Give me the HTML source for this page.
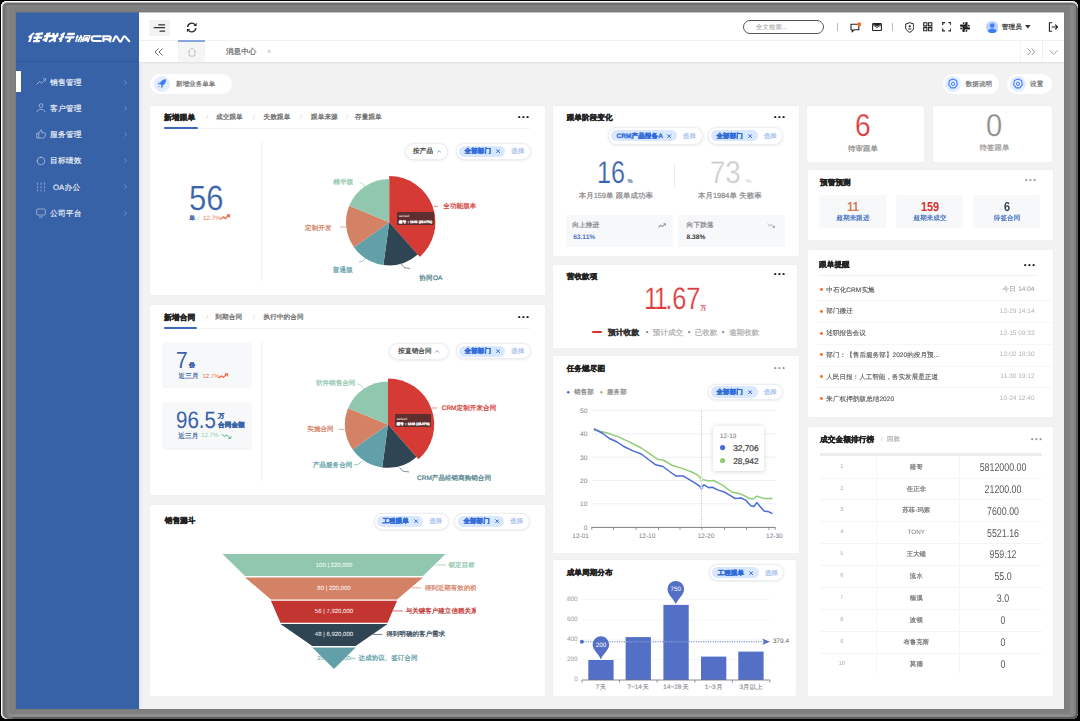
<!DOCTYPE html>
<html lang="zh"><head><meta charset="utf-8"><title>任我行协同CRM</title>
<style>
html,body{margin:0;padding:0;}
body{width:1080px;height:721px;overflow:hidden;background:#000;font-family:"Liberation Sans",sans-serif;position:relative;}
#root{position:absolute;left:0;top:0;width:1080px;height:721px;overflow:hidden;filter:blur(0.45px);}
#root div,#root span,#root svg{position:absolute;}
#root div div, #root div span{position:absolute;}
.t{white-space:nowrap;display:block;overflow:visible;text-rendering:geometricPrecision;}
#root .t span{position:static;}
.j{text-align:justify;text-align-last:justify;-webkit-text-stroke:0.22px;}
#frm{left:1px;top:1px;width:1077px;height:718px;border-radius:6px;background:#808080;
box-shadow:inset 1px 0 0 #fff,inset 0 1px 0 #fff,inset 2px 0 0 #b0b0b0,inset 0 2px 0 #b8b8b8,inset 4px 0 0 #707070,inset 0 4px 0 #6e6e6e,inset 6px 0 0 #7a7a7a,inset 8px 0 0 #868686,
inset -2px 0 0 #5c5c5c,inset 0 -2px 0 #5c5c5c,inset -4px 0 0 #808080,inset -8px 0 0 #898989,inset 0 -5px 0 #8e8e8e;}
#fi{left:15px;top:11px;width:1050px;height:699px;background:#7a7a7a;}
#fe{left:16px;top:12px;width:1048px;height:1px;background:rgba(128,128,128,0.45);}
</style></head><body><div id="root">
<div id="frm"></div><div id="fi"></div>
<div id="frame"></div>
<div style="left:16.00px;top:12.00px;width:1048.00px;height:697.00px;background:#f2f2f2;"></div>
<div style="left:16.00px;top:12.00px;width:123.00px;height:697.00px;background:#3762a8;"></div>
<div style="left:16.00px;top:60.50px;width:123.00px;height:1.00px;background:rgba(0,0,0,0.10);"></div>
<div style="left:16.00px;top:70.50px;width:5.00px;height:21.50px;background:#fff;"></div>
<svg style="left:0.00px;top:0.00px;pointer-events:none;" width="1080" height="721" viewBox="0 0 1080 721"><title>任我行 协同 CRM</title><g transform="translate(26.3 33) translate(3.3 0) skewX(-20)" stroke="#fff" fill="none" stroke-linecap="butt" stroke-linejoin="miter" stroke-width="2.3"><path d="M4.6 0 L0.6 4.2 M2.9 3 V9 M6.2 1.1 L13.6 0.5 M9.7 1 V8 M5.6 4.6 H14.2 M6.4 8.1 H13.2"/><path d="M15.6 3.1 H29.8 M19.2 0.6 V8.9 M17 1.2 L21.2 0.4 M15.6 7 L19.2 5.6 M23.6 0.2 L28.6 8.8 M28.2 4.6 L22.4 8.8 M27.4 0.4 L29 1.8"/><path d="M35.2 0 L32 2.6 M35.6 3 L31.4 6.3 M34 5.6 V9 M38 1 H45.6 M37 4.3 H46.4 M42.5 4.3 V8.1 H40.2"/></g><g transform="translate(74.2 35) translate(2.2 0) skewX(-16)" stroke="#fff" fill="none" stroke-linecap="butt" stroke-linejoin="miter" stroke-width="1.45"><path d="M1.3 0 V7 M0 2.2 H2.8 M3.6 2.2 H6.6 M5 0 L3.6 7 M6.2 2.2 V6.4 L5.4 7 M3.4 4.2 L3 5.4 M7 4 L7.3 5.2"/><path d="M8.2 7 V0.6 H13.6 V6.4 L12.6 7 M9.6 2.4 H12.2 M9.8 3.8 H12 V5.4 H9.8 Z"/></g><g stroke="#fff" fill="none" stroke-linecap="butt" stroke-linejoin="miter" stroke-width="2.1" stroke-linejoin="round"><path d="M101.6 36.2 H94 Q91.6 36.2 91.6 38.6 Q91.6 41 94 41 H101.6"/><path d="M103.4 41.9 V36.2 H109 Q110.8 36.2 110.8 37.7 Q110.8 39.2 109 39.2 H104 M108 39.2 L111 41.9" stroke-linejoin="miter"/><path d="M112.8 41.9 L115.2 36.8 Q116 35.6 116.9 36.8 L119.6 41.2 Q120.4 42.2 121.1 41.2 L123.6 36.8 Q124.4 35.6 125.3 36.8 L129.8 41.9"/></g></svg>
<svg style="left:35.80px;top:78.20px;" width="10.5" height="10" viewBox="0 0 10.5 10"><path d="M0.5 6.5 L3.5 3.5 L5.8 5.2 L9.8 1.2 M7 0.8 L10 0.8 L10 3.8" fill="none" stroke="rgba(255,255,255,0.5)" stroke-width="0.9"/></svg>
<span class="t j" style="left:50.10px;width:31.30px;top:76.70px;line-height:12px;font-size:7.75px;color:rgba(255,255,255,0.82);">销售管理</span>
<svg style="left:124.00px;top:79.50px;" width="3" height="5" viewBox="0 0 3 5"><path d="M0.4 0.4 L2.5 2.5 L0.4 4.6" fill="none" stroke="rgba(255,255,255,0.35)" stroke-width="0.8"/></svg>
<svg style="left:35.80px;top:103.25px;" width="10.5" height="10" viewBox="0 0 10.5 10"><circle cx="5" cy="2.6" r="1.9" fill="none" stroke="rgba(255,255,255,0.5)" stroke-width="0.9"/><path d="M1 9 C1 5.5 9 5.5 9 9" fill="none" stroke="rgba(255,255,255,0.5)" stroke-width="0.9"/></svg>
<span class="t j" style="left:50.10px;width:31.30px;top:102.95px;line-height:12px;font-size:7.75px;color:rgba(255,255,255,0.82);">客户管理</span>
<svg style="left:124.00px;top:105.75px;" width="3" height="5" viewBox="0 0 3 5"><path d="M0.4 0.4 L2.5 2.5 L0.4 4.6" fill="none" stroke="rgba(255,255,255,0.35)" stroke-width="0.8"/></svg>
<svg style="left:35.80px;top:128.70px;" width="10.5" height="10" viewBox="0 0 10.5 10"><path d="M0.7 4.2 H2.8 V9 H0.7 Z M2.8 4.4 L4.8 0.8 C6.2 0.6 6.2 2.4 5.6 3.8 H8.6 C9.6 3.8 9.6 5 9.3 6 L8.6 8.3 C8.4 8.9 8 9 7.4 9 H2.8" fill="none" stroke="rgba(255,255,255,0.5)" stroke-width="0.9"/></svg>
<span class="t j" style="left:50.10px;width:31.30px;top:129.20px;line-height:12px;font-size:7.75px;color:rgba(255,255,255,0.82);">服务管理</span>
<svg style="left:124.00px;top:132.00px;" width="3" height="5" viewBox="0 0 3 5"><path d="M0.4 0.4 L2.5 2.5 L0.4 4.6" fill="none" stroke="rgba(255,255,255,0.35)" stroke-width="0.8"/></svg>
<svg style="left:35.80px;top:155.90px;" width="10.5" height="10" viewBox="0 0 10.5 10"><circle cx="5" cy="5" r="3.8" fill="none" stroke="rgba(255,255,255,0.5)" stroke-width="0.9"/><path d="M5 0.5 V2 M0.5 5 H1.6" stroke="rgba(255,255,255,0.5)" stroke-width="0.9"/></svg>
<span class="t j" style="left:50.10px;width:31.30px;top:155.30px;line-height:12px;font-size:7.75px;color:rgba(255,255,255,0.82);">目标绩效</span>
<svg style="left:124.00px;top:158.10px;" width="3" height="5" viewBox="0 0 3 5"><path d="M0.4 0.4 L2.5 2.5 L0.4 4.6" fill="none" stroke="rgba(255,255,255,0.35)" stroke-width="0.8"/></svg>
<svg style="left:35.80px;top:181.80px;" width="10.5" height="10" viewBox="0 0 10.5 10"><path d="M1.5 0.5 V9.5 M5 0.5 V9.5 M8.5 0.5 V9.5" stroke="rgba(255,255,255,0.5)" stroke-width="0.8" stroke-dasharray="2.4 1.2"/></svg>
<span class="t j" style="left:53.00px;width:27.24px;top:181.50px;line-height:12px;font-size:7.75px;color:rgba(255,255,255,0.82);">OA办公</span>
<svg style="left:124.00px;top:184.30px;" width="3" height="5" viewBox="0 0 3 5"><path d="M0.4 0.4 L2.5 2.5 L0.4 4.6" fill="none" stroke="rgba(255,255,255,0.35)" stroke-width="0.8"/></svg>
<svg style="left:35.80px;top:208.30px;" width="10.5" height="10" viewBox="0 0 10.5 10"><rect x="0.7" y="1" width="8.6" height="6" rx="1" fill="none" stroke="rgba(255,255,255,0.5)" stroke-width="0.9"/><path d="M3 9 H7" stroke="rgba(255,255,255,0.5)" stroke-width="0.9"/></svg>
<span class="t j" style="left:50.10px;width:31.30px;top:207.70px;line-height:12px;font-size:7.75px;color:rgba(255,255,255,0.82);">公司平台</span>
<svg style="left:124.00px;top:210.50px;" width="3" height="5" viewBox="0 0 3 5"><path d="M0.4 0.4 L2.5 2.5 L0.4 4.6" fill="none" stroke="rgba(255,255,255,0.35)" stroke-width="0.8"/></svg>
<div style="left:139.00px;top:12.00px;width:925.00px;height:50.00px;background:#fff;"></div>
<div style="left:139.00px;top:40.00px;width:925.00px;height:0.80px;background:#f1f1f1;"></div>
<div style="left:139.00px;top:62.00px;width:925.00px;height:1.00px;background:#e4e4e4;"></div>
<div style="left:139.00px;top:63.00px;width:925.00px;height:1.50px;background:linear-gradient(#e9e9e9,#f2f2f2);"></div>
<div style="left:139.00px;top:64.00px;width:4.00px;height:645.00px;background:linear-gradient(90deg,#e3e3e3,#f2f2f2);"></div>
<div style="left:138.00px;top:12.00px;width:1.00px;height:697.00px;background:#3360a8;"></div>
<div style="left:149.20px;top:19.60px;width:20.60px;height:16.20px;background:#f3f3f3;border-radius:1px;"></div>
<svg style="left:153.00px;top:23.00px;" width="13" height="10" viewBox="0 0 13 10"><path d="M5.7 1.8 H11.6 M1.2 4.7 H11.6 M7 8.2 H11.6" stroke="#333" stroke-width="1.2" stroke-linecap="round"/></svg>
<svg style="left:185.50px;top:22.00px;" width="11.5" height="11" viewBox="0 0 11.5 11"><path d="M1.6 5 A4.2 4.2 0 0 1 9 2.6 M9.9 6 A4.2 4.2 0 0 1 2.5 8.4" fill="none" stroke="#222" stroke-width="1.3"/><path d="M10.6 0.8 V4 H7.4 Z M0.9 10.2 V7 H4.1 Z" fill="#222"/></svg>
<div style="left:178.20px;top:40.00px;width:26.60px;height:1.80px;background:#8aa8e0;"></div>
<div style="left:178.20px;top:41.80px;width:26.60px;height:20.20px;background:#f5f5f5;"></div>
<svg style="left:154.00px;top:47.50px;" width="10" height="8" viewBox="0 0 10 8"><path d="M4.6 0.5 L1 4 L4.6 7.5 M8.6 0.5 L5 4 L8.6 7.5" fill="none" stroke="#555" stroke-width="0.9"/></svg>
<svg style="left:187.00px;top:46.50px;" width="10" height="10" viewBox="0 0 10 10"><path d="M0.8 5 L5 0.8 L9.2 5 M2.2 4.2 V9 H7.8 V4.2" fill="none" stroke="#b5b5b5" stroke-width="0.8"/></svg>
<span class="t j" style="left:226.00px;width:30.30px;top:46.00px;line-height:12px;font-size:7.5px;color:#666;">消息中心</span>
<span class="t" style="left:169.00px;width:200px;text-align:center;top:46.00px;line-height:12px;font-size:8px;color:#bbb;">×</span>
<div style="left:1041.50px;top:41.00px;width:0.60px;height:21.00px;background:#eee;"></div>
<div style="left:1019.50px;top:41.00px;width:0.60px;height:21.00px;background:#f3f3f3;"></div>
<svg style="left:1026.50px;top:48.00px;" width="9" height="7.5" viewBox="0 0 9 7.5"><path d="M0.6 0.5 L3.8 3.75 L0.6 7 M4.6 0.5 L7.8 3.75 L4.6 7" fill="none" stroke="#777" stroke-width="0.8"/></svg>
<svg style="left:1048.50px;top:49.50px;" width="9" height="5" viewBox="0 0 9 5"><path d="M0.6 0.6 L4.5 4.2 L8.4 0.6" fill="none" stroke="#888" stroke-width="0.8"/></svg>
<div style="left:743.3px;top:20px;width:81px;height:13.6px;border:0.9px solid #555;border-radius:8px;box-sizing:border-box;background:#fff"></div>
<span class="t j" style="left:756.00px;width:31.11px;top:22.50px;line-height:10px;font-size:6.3px;color:#bdbdbd;">全文检索...</span>
<div style="left:837.00px;top:22.50px;width:0.70px;height:8.00px;background:#bbb;"></div>
<div style="left:891.50px;top:22.50px;width:0.70px;height:8.00px;background:#bbb;"></div>
<svg style="left:849.50px;top:21.50px;" width="11" height="11" viewBox="0 0 11 11"><path d="M1 2.2 H8.8 V7.8 H4 L2.2 9.8 V7.8 H1 Z" fill="none" stroke="#222" stroke-width="1.1" stroke-linejoin="round"/><circle cx="9.3" cy="2.2" r="2" fill="#ff6a1f"/></svg>
<svg style="left:871.50px;top:22.60px;" width="10" height="8.2" viewBox="0 0 10 8.2"><rect x="0.6" y="0.6" width="8.8" height="7" rx="0.8" fill="none" stroke="#222" stroke-width="1.1"/><path d="M0.8 1 H9.2 L5 3.6 Z" fill="#222"/><path d="M1 1.8 L5 4.6 L9 1.8" fill="none" stroke="#222" stroke-width="0.9"/></svg>
<svg style="left:904.50px;top:21.50px;" width="9.5" height="11" viewBox="0 0 9.5 11"><path d="M4.75 0.7 L8.8 2 V5.6 C8.8 8 6.6 9.6 4.75 10.3 C2.9 9.6 0.7 8 0.7 5.6 V2 Z" fill="none" stroke="#222" stroke-width="1"/><circle cx="4.75" cy="4.3" r="1.1" fill="#222"/><path d="M3.2 7 H6.3" stroke="#222" stroke-width="1"/></svg>
<svg style="left:923.00px;top:22.00px;" width="9.5" height="9.5" viewBox="0 0 9.5 9.5"><path d="M0.7 0.7 H3.9 V3.9 H0.7 Z M5.6 0.7 H8.8 V3.9 H5.6 Z M0.7 5.6 H3.9 V8.8 H0.7 Z M5.6 5.6 H8.8 V8.8 H5.6 Z" fill="none" stroke="#222" stroke-width="1.1"/></svg>
<svg style="left:941.50px;top:22.00px;" width="9.5" height="9.5" viewBox="0 0 9.5 9.5"><path d="M0.7 3 V0.7 H3 M6.5 0.7 H8.8 V3 M8.8 6.5 V8.8 H6.5 M3 8.8 H0.7 V6.5" fill="none" stroke="#222" stroke-width="1.2"/></svg>
<svg style="left:960.00px;top:21.90px;" width="10" height="10" viewBox="0 0 10 10"><path d="M0.95 3.6 H5.2 M6.4 0.95 V5.2 M4.8 6.4 H9.05 M3.6 4.8 V9.05" stroke="#222" stroke-width="2.3" stroke-linecap="round"/><circle cx="3.6" cy="1.1" r="0.95" fill="#222"/><circle cx="8.9" cy="3.6" r="0.95" fill="#222"/><circle cx="6.4" cy="8.9" r="0.95" fill="#222"/><circle cx="1.1" cy="6.4" r="0.95" fill="#222"/></svg>
<svg style="left:985.50px;top:20.50px;" width="12.5" height="12.5" viewBox="0 0 12.5 12.5"><circle cx="6.25" cy="6.25" r="6.25" fill="#bcd3ff"/><circle cx="6.25" cy="4.6" r="2.3" fill="#3b7cff"/><path d="M2 10.6 C2 6.6 10.5 6.6 10.5 10.6 A6.25 6.25 0 0 1 2 10.6 Z" fill="#3b7cff"/></svg>
<span class="t j" style="left:1001.70px;width:20.10px;top:22.00px;line-height:11px;font-size:6.6px;color:#333;">管理员</span>
<svg style="left:1025.00px;top:25.30px;" width="5.6" height="3.4" viewBox="0 0 5.6 3.4"><path d="M0 0 H5.6 L2.8 3.4 Z" fill="#333"/></svg>
<svg style="left:1047.50px;top:21.80px;" width="10.5" height="10" viewBox="0 0 10.5 10"><path d="M4.2 0.7 H1.4 V9.3 H4.2" fill="none" stroke="#222" stroke-width="1.1"/><path d="M3.6 5 H9.4 M7.2 2.6 L9.6 5 L7.2 7.4" fill="none" stroke="#222" stroke-width="1.1"/></svg>
<div style="left:150.00px;top:74.00px;width:81.50px;height:20.00px;background:#fff;border-radius:10px;"></div>
<svg style="left:153.50px;top:76.00px;" width="16" height="16" viewBox="0 0 16 16"><circle cx="8" cy="8" r="8" fill="#e4edff"/><path d="M11.8 3.6 C9.2 3.6 7 5.2 5.9 7.6 L8 9.7 C10.4 8.6 12 6.6 11.8 3.6 Z M5.6 8.2 L4 8 L5.2 6.4 M7.4 10 L7.6 11.6 L9.2 10.4 M4.3 11.3 L5.6 10" fill="#3b7cff" stroke="#3b7cff" stroke-width="0.6" stroke-linejoin="round"/></svg>
<span class="t j" style="left:176.00px;width:39.30px;top:79.90px;line-height:10px;font-size:6.5px;color:#777;">新增业务单单</span>
<div style="left:942.70px;top:74.30px;width:56.60px;height:20.00px;background:#fff;border-radius:10px;"></div>
<svg style="left:945.30px;top:76.30px;" width="16" height="16" viewBox="0 0 16 16"><circle cx="8" cy="8" r="8" fill="#e4edff"/><path d="M8 3 L11.6 4.6 L12.3 8.6 L9.9 11.9 H6.1 L3.7 8.6 L4.4 4.6 Z" fill="none" stroke="#3f7dff" stroke-width="1.1" stroke-linejoin="round"/><circle cx="8" cy="7.8" r="1.6" fill="none" stroke="#3f7dff" stroke-width="1"/></svg>
<span class="t j" style="left:965.70px;width:26.30px;top:80.20px;line-height:10px;font-size:6.5px;color:#777;">数据说明</span>
<div style="left:1006.70px;top:74.30px;width:45.00px;height:20.00px;background:#fff;border-radius:10px;"></div>
<svg style="left:1010.30px;top:76.30px;" width="16" height="16" viewBox="0 0 16 16"><circle cx="8" cy="8" r="8" fill="#e4edff"/><path d="M8 3 L11.6 4.6 L12.3 8.6 L9.9 11.9 H6.1 L3.7 8.6 L4.4 4.6 Z" fill="none" stroke="#3f7dff" stroke-width="1.1" stroke-linejoin="round"/><circle cx="8" cy="7.8" r="1.6" fill="none" stroke="#3f7dff" stroke-width="1"/></svg>
<span class="t j" style="left:1030.00px;width:13.30px;top:80.20px;line-height:10px;font-size:6.5px;color:#777;">设置</span>
<div style="left:150.00px;top:105.70px;width:395.00px;height:189.60px;background:#fff;border-radius:1.5px;box-shadow:0 0 1.5px rgba(0,0,0,0.05);"></div>
<span class="t j" style="left:164.00px;width:31.30px;top:111.70px;line-height:12px;font-size:7.75px;color:#222;font-weight:bold;-webkit-text-stroke:0.3px;">新增跟单</span>
<div style="left:164.00px;top:127.90px;width:366.00px;height:0.70px;background:#f3f3f3;"></div>
<div style="left:164.00px;top:127.00px;width:33.50px;height:2.00px;background:#3b68b8;border-radius:1px;"></div>
<span class="t j" style="left:216.00px;width:26.70px;top:112.20px;line-height:11px;font-size:6.6px;color:#666;">成交跟单</span>
<span class="t j" style="left:263.60px;width:26.70px;top:112.20px;line-height:11px;font-size:6.6px;color:#666;">失败跟单</span>
<span class="t j" style="left:311.00px;width:26.70px;top:112.20px;line-height:11px;font-size:6.6px;color:#666;">跟单来源</span>
<span class="t j" style="left:355.00px;width:26.70px;top:112.20px;line-height:11px;font-size:6.6px;color:#666;">存量跟单</span>
<span class="t" style="left:107.00px;width:200px;text-align:center;top:112.70px;line-height:10px;font-size:6px;color:#ccc;">/</span>
<span class="t" style="left:154.00px;width:200px;text-align:center;top:112.70px;line-height:10px;font-size:6px;color:#ccc;">/</span>
<span class="t" style="left:200.50px;width:200px;text-align:center;top:112.70px;line-height:10px;font-size:6px;color:#ccc;">/</span>
<span class="t" style="left:247.00px;width:200px;text-align:center;top:112.70px;line-height:10px;font-size:6px;color:#ccc;">/</span>
<svg style="left:517.50px;top:115.80px;" width="11" height="2.4" viewBox="0 0 11 2.4"><circle cx="1.2" cy="1.2" r="1.1" fill="#222"/><circle cx="5.4" cy="1.2" r="1.1" fill="#222"/><circle cx="9.6" cy="1.2" r="1.1" fill="#222"/></svg>
<div style="left:258.70px;top:142.00px;width:4.00px;height:139.00px;background:linear-gradient(90deg,rgba(0,0,0,0),rgba(0,0,0,0.035));"></div>
<span class="t" style="left:188.80px;transform:scaleX(0.885);transform-origin:0 50%;top:175.30px;line-height:48px;font-size:35px;color:#3862a9;-webkit-text-stroke:0.25px #fff;">56</span>
<span class="t j" style="left:189.00px;width:6.60px;top:213.50px;line-height:10px;font-size:6.3px;color:#3862a9;">单</span>
<span class="t" style="left:98.50px;width:200px;text-align:center;top:213.50px;line-height:10px;font-size:6px;color:#bbb;">/</span>
<span class="t" style="left:203.00px;top:213.50px;line-height:10px;font-size:6.3px;color:#f07048;">12.7%</span>
<svg style="left:220.30px;top:214.40px;" width="10.5" height="6.6" viewBox="0 0 10 6"><path d="M0.6 5 L3 2.6 L5 4.2 L8.6 1 M6.4 0.8 L9 0.8 L9 3.2" fill="none" stroke="#f07048" stroke-width="1.25"/></svg>
<div style="left:405.00px;top:142.80px;width:42.70px;height:16.90px;border-radius:8.45px;background:#fff;border:0.8px solid #eceef3;box-sizing:border-box;box-shadow:0 0.5px 2.5px rgba(0,0,0,0.10)"></div>
<span class="t j" style="left:413.00px;width:20.10px;top:146.45px;line-height:11px;font-size:6.6px;color:#444;">按产品</span>
<svg style="left:436.80px;top:149.65px;" width="4.4" height="3" viewBox="0 0 4.4 3"><path d="M0.4 2.6 L2.2 0.6 L4 2.6" fill="none" stroke="#5b8be6" stroke-width="0.8"/></svg>
<div style="left:455.60px;top:142.80px;width:75.10px;height:16.90px;border-radius:8.45px;background:#fff;border:0.8px solid #eceef3;box-sizing:border-box;box-shadow:0 0.5px 2.5px rgba(0,0,0,0.10)"></div>
<div style="left:458.80px;top:145.65px;width:46.50px;height:11.20px;background:#d9e8ff;border-radius:5.6px;"></div>
<span class="t j" style="left:464.60px;width:26.30px;top:146.95px;line-height:10px;font-size:6.5px;color:#2f6bd8;font-weight:bold;-webkit-text-stroke:0.3px;">全部部门</span>
<svg style="left:495.90px;top:149.05px;" width="4.4" height="4.4" viewBox="0 0 4.4 4.4"><path d="M0.4 0.4 L4 4 M4 0.4 L0.4 4" stroke="#2f6bd8" stroke-width="1"/></svg>
<span class="t j" style="left:511.30px;width:12.90px;top:146.95px;line-height:10px;font-size:6.3px;color:#a9c2ee;">选择</span>
<svg style="left:0.00px;top:0.00px;pointer-events:none;" width="1080" height="721" viewBox="0 0 1080 721"><path d="M389.20 222.20 L389.20 176.00 A46.2 46.2 0 0 1 419.75 256.86 Z" fill="#d53a35"/><path d="M389.20 222.20 L417.77 254.60 A43.2 43.2 0 0 1 383.41 265.01 Z" fill="#2f4554"/><path d="M389.20 222.20 L383.41 265.01 A43.2 43.2 0 0 1 353.94 247.16 Z" fill="#61a0a8"/><path d="M389.20 222.20 L353.94 247.16 A43.2 43.2 0 0 1 349.26 205.74 Z" fill="#d48265"/><path d="M389.20 222.20 L349.26 205.74 A43.2 43.2 0 0 1 389.20 179.00 Z" fill="#91c7ae"/></svg>
<svg style="left:0.00px;top:0.00px;" width="1080" height="721" viewBox="0 0 1080 721"><path d="M359.5 182 L363.5 184.5 L366 188" fill="none" stroke="#91c7ae" stroke-width="0.6"/><path d="M340 227 H346.5" fill="none" stroke="#d48265" stroke-width="0.6"/><path d="M359 262 L363 261 L366 257.5" fill="none" stroke="#61a0a8" stroke-width="0.6"/><path d="M401 264 L404 267.5 L410 268.5" fill="none" stroke="#2f4554" stroke-width="0.6"/><path d="M433.5 206.3 H438" fill="none" stroke="#d53a35" stroke-width="0.6"/></svg>
<span class="t j" style="left:333.30px;width:19.95px;top:176.50px;line-height:11px;font-size:6.55px;color:#91c7ae;">精华版</span>
<span class="t j" style="left:305.00px;width:26.50px;top:222.70px;line-height:11px;font-size:6.55px;color:#d48265;">定制开发</span>
<span class="t j" style="left:332.80px;width:19.95px;top:264.80px;line-height:11px;font-size:6.55px;color:#61a0a8;">普通版</span>
<span class="t j" style="left:419.30px;width:23.10px;top:272.50px;line-height:11px;font-size:6.55px;color:#4e7f8c;">协同OA</span>
<span class="t j" style="left:443.30px;width:33.05px;top:201.00px;line-height:11px;font-size:6.55px;color:#d53a35;">全功能版本</span>
<div style="left:397.00px;top:211.80px;width:36.70px;height:13.20px;background:rgba(60,45,45,0.78);border-radius:1px;"></div>
<span class="t" style="left:399.00px;top:213.30px;line-height:6px;font-size:3.2px;color:#fff;">series0</span>
<span class="t j" style="left:399.00px;width:33.04px;top:218.70px;line-height:6px;font-size:3.3px;color:#fff;font-weight:bold;-webkit-text-stroke:0.3px;">编号 : 1348 (25.07%)</span>
<div style="left:150.00px;top:305.00px;width:395.00px;height:190.40px;background:#fff;border-radius:1.5px;box-shadow:0 0 1.5px rgba(0,0,0,0.05);"></div>
<span class="t j" style="left:164.00px;width:31.30px;top:311.70px;line-height:12px;font-size:7.75px;color:#222;font-weight:bold;-webkit-text-stroke:0.3px;">新增合同</span>
<div style="left:164.00px;top:327.90px;width:366.00px;height:0.70px;background:#f3f3f3;"></div>
<div style="left:164.00px;top:327.00px;width:32.50px;height:2.00px;background:#3b68b8;border-radius:1px;"></div>
<span class="t j" style="left:215.30px;width:26.70px;top:312.20px;line-height:11px;font-size:6.6px;color:#666;">到期合同</span>
<span class="t j" style="left:263.60px;width:39.90px;top:312.20px;line-height:11px;font-size:6.6px;color:#666;">执行中的合同</span>
<span class="t" style="left:107.00px;width:200px;text-align:center;top:312.70px;line-height:10px;font-size:6px;color:#ccc;">/</span>
<span class="t" style="left:154.00px;width:200px;text-align:center;top:312.70px;line-height:10px;font-size:6px;color:#ccc;">/</span>
<svg style="left:517.50px;top:315.80px;" width="11" height="2.4" viewBox="0 0 11 2.4"><circle cx="1.2" cy="1.2" r="1.1" fill="#222"/><circle cx="5.4" cy="1.2" r="1.1" fill="#222"/><circle cx="9.6" cy="1.2" r="1.1" fill="#222"/></svg>
<div style="left:258.70px;top:342.00px;width:4.00px;height:139.00px;background:linear-gradient(90deg,rgba(0,0,0,0),rgba(0,0,0,0.035));"></div>
<div style="left:163.30px;top:342.70px;width:87.50px;height:43.80px;background:#f7f8fa;border-radius:2.5px;box-shadow:0 0.5px 2.5px rgba(0,0,0,0.07);"></div>
<div style="left:163.30px;top:403.00px;width:87.50px;height:44.60px;background:#f7f8fa;border-radius:2.5px;box-shadow:0 0.5px 2.5px rgba(0,0,0,0.07);"></div>
<span class="t" style="left:176.30px;transform:scaleX(0.9);transform-origin:0 50%;top:343.90px;line-height:32px;font-size:23.4px;color:#3862a9;">7</span>
<span class="t j" style="left:189.00px;width:6.30px;top:360.50px;line-height:10px;font-size:6px;color:#3862a9;font-weight:bold;-webkit-text-stroke:0.3px;">份</span>
<span class="t j" style="left:178.40px;width:20.10px;top:371.20px;line-height:11px;font-size:6.6px;color:#3862a9;">近三月</span>
<span class="t" style="left:202.50px;top:371.70px;line-height:10px;font-size:6.0px;color:#f07048;">12.7%</span>
<svg style="left:218.00px;top:372.90px;" width="10.5" height="6.4" viewBox="0 0 10 6"><path d="M0.6 5 L3 2.6 L5 4.2 L8.6 1 M6.4 0.8 L9 0.8 L9 3.2" fill="none" stroke="#f07048" stroke-width="1.25"/></svg>
<span class="t" style="left:176.30px;transform:scaleX(0.86);transform-origin:0 50%;top:404.20px;line-height:33px;font-size:23.8px;color:#3862a9;">96.5</span>
<span class="t j" style="left:218.00px;width:6.60px;top:412.30px;line-height:10px;font-size:6.3px;color:#3862a9;font-weight:bold;-webkit-text-stroke:0.3px;">万</span>
<span class="t j" style="left:218.00px;width:26.70px;top:420.10px;line-height:11px;font-size:6.6px;color:#3862a9;font-weight:bold;-webkit-text-stroke:0.3px;">合同金额</span>
<span class="t j" style="left:178.20px;width:20.10px;top:430.80px;line-height:11px;font-size:6.6px;color:#3862a9;">近三月</span>
<span class="t" style="left:201.00px;top:431.30px;line-height:10px;font-size:6.2px;color:#8fd0b0;">12.7%</span>
<svg style="left:220.50px;top:432.60px;" width="11" height="6.4" viewBox="0 0 10 6"><path d="M0.6 1 L3 3.4 L5 1.8 L8.6 5 M6.4 5.2 L9 5.2 L9 2.8" fill="none" stroke="#7cc7a2" stroke-width="1"/></svg>
<div style="left:388.70px;top:342.70px;width:60.20px;height:17.00px;border-radius:8.50px;background:#fff;border:0.8px solid #eceef3;box-sizing:border-box;box-shadow:0 0.5px 2.5px rgba(0,0,0,0.10)"></div>
<span class="t j" style="left:398.30px;width:33.30px;top:346.40px;line-height:11px;font-size:6.6px;color:#444;">按直销合同</span>
<svg style="left:435.30px;top:349.60px;" width="4.4" height="3" viewBox="0 0 4.4 3"><path d="M0.4 2.6 L2.2 0.6 L4 2.6" fill="none" stroke="#5b8be6" stroke-width="0.8"/></svg>
<div style="left:455.60px;top:343.00px;width:75.10px;height:16.40px;border-radius:8.20px;background:#fff;border:0.8px solid #eceef3;box-sizing:border-box;box-shadow:0 0.5px 2.5px rgba(0,0,0,0.10)"></div>
<div style="left:458.80px;top:345.60px;width:46.50px;height:11.20px;background:#d9e8ff;border-radius:5.6px;"></div>
<span class="t j" style="left:464.60px;width:26.30px;top:346.90px;line-height:10px;font-size:6.5px;color:#2f6bd8;font-weight:bold;-webkit-text-stroke:0.3px;">全部部门</span>
<svg style="left:495.90px;top:349.00px;" width="4.4" height="4.4" viewBox="0 0 4.4 4.4"><path d="M0.4 0.4 L4 4 M4 0.4 L0.4 4" stroke="#2f6bd8" stroke-width="1"/></svg>
<span class="t j" style="left:511.30px;width:12.90px;top:346.90px;line-height:10px;font-size:6.3px;color:#a9c2ee;">选择</span>
<svg style="left:0.00px;top:0.00px;pointer-events:none;" width="1080" height="721" viewBox="0 0 1080 721"><path d="M388.00 424.60 L388.00 378.40 A46.2 46.2 0 0 1 418.55 459.26 Z" fill="#d53a35"/><path d="M388.00 424.60 L416.57 457.00 A43.2 43.2 0 0 1 382.21 467.41 Z" fill="#2f4554"/><path d="M388.00 424.60 L382.21 467.41 A43.2 43.2 0 0 1 352.74 449.56 Z" fill="#61a0a8"/><path d="M388.00 424.60 L352.74 449.56 A43.2 43.2 0 0 1 348.06 408.14 Z" fill="#d48265"/><path d="M388.00 424.60 L348.06 408.14 A43.2 43.2 0 0 1 388.00 381.40 Z" fill="#91c7ae"/></svg>
<svg style="left:0.00px;top:0.00px;" width="1080" height="721" viewBox="0 0 1080 721"><path d="M357 383.7 L361.5 385.5 L364 389" fill="none" stroke="#91c7ae" stroke-width="0.6"/><path d="M338.5 429.4 H344.5" fill="none" stroke="#d48265" stroke-width="0.6"/><path d="M354 465 L359 464 L362 461" fill="none" stroke="#61a0a8" stroke-width="0.6"/><path d="M399.5 467.5 L402.5 471 L409 472" fill="none" stroke="#2f4554" stroke-width="0.6"/><path d="M432 408 H437" fill="none" stroke="#d53a35" stroke-width="0.6"/></svg>
<span class="t j" style="left:316.00px;width:39.30px;top:379.10px;line-height:10px;font-size:6.5px;color:#91c7ae;">软件销售合同</span>
<span class="t j" style="left:307.30px;width:26.30px;top:425.10px;line-height:10px;font-size:6.5px;color:#d48265;">实施合同</span>
<span class="t j" style="left:312.90px;width:39.30px;top:461.20px;line-height:10px;font-size:6.5px;color:#61a0a8;">产品服务合同</span>
<span class="t j" style="left:417.00px;width:73.96px;top:474.20px;line-height:10px;font-size:6.5px;color:#4e7f8c;">CRM产品经销商购销合同</span>
<span class="t j" style="left:441.70px;width:54.46px;top:403.50px;line-height:10px;font-size:6.5px;color:#d53a35;">CRM定制开发合同</span>
<div style="left:394.70px;top:414.30px;width:36.10px;height:12.70px;background:rgba(60,45,45,0.78);border-radius:1px;"></div>
<span class="t" style="left:396.70px;top:415.70px;line-height:6px;font-size:3.2px;color:#fff;">series0</span>
<span class="t j" style="left:396.70px;width:33.04px;top:421.00px;line-height:6px;font-size:3.3px;color:#fff;font-weight:bold;-webkit-text-stroke:0.3px;">编号 : 1348 (25.07%)</span>
<div style="left:150.00px;top:505.30px;width:395.00px;height:190.80px;background:#fff;border-radius:1.5px;box-shadow:0 0 1.5px rgba(0,0,0,0.05);"></div>
<span class="t j" style="left:164.70px;width:30.70px;top:515.10px;line-height:12px;font-size:7.6px;color:#222;font-weight:bold;-webkit-text-stroke:0.3px;">销售漏斗</span>
<div style="left:373.50px;top:512.80px;width:75.90px;height:17.20px;border-radius:8.60px;background:#fff;border:0.8px solid #eceef3;box-sizing:border-box;box-shadow:0 0.5px 2.5px rgba(0,0,0,0.10)"></div>
<div style="left:376.70px;top:515.80px;width:46.50px;height:11.20px;background:#d9e8ff;border-radius:5.6px;"></div>
<span class="t j" style="left:382.50px;width:26.30px;top:517.10px;line-height:10px;font-size:6.5px;color:#2f6bd8;font-weight:bold;-webkit-text-stroke:0.3px;">工程跟单</span>
<svg style="left:413.80px;top:519.20px;" width="4.4" height="4.4" viewBox="0 0 4.4 4.4"><path d="M0.4 0.4 L4 4 M4 0.4 L0.4 4" stroke="#2f6bd8" stroke-width="1"/></svg>
<span class="t j" style="left:429.20px;width:12.90px;top:517.10px;line-height:10px;font-size:6.3px;color:#a9c2ee;">选择</span>
<div style="left:454.40px;top:512.80px;width:75.60px;height:17.20px;border-radius:8.60px;background:#fff;border:0.8px solid #eceef3;box-sizing:border-box;box-shadow:0 0.5px 2.5px rgba(0,0,0,0.10)"></div>
<div style="left:457.60px;top:515.80px;width:46.50px;height:11.20px;background:#d9e8ff;border-radius:5.6px;"></div>
<span class="t j" style="left:463.40px;width:26.30px;top:517.10px;line-height:10px;font-size:6.5px;color:#2f6bd8;font-weight:bold;-webkit-text-stroke:0.3px;">全部部门</span>
<svg style="left:494.70px;top:519.20px;" width="4.4" height="4.4" viewBox="0 0 4.4 4.4"><path d="M0.4 0.4 L4 4 M4 0.4 L0.4 4" stroke="#2f6bd8" stroke-width="1"/></svg>
<span class="t j" style="left:510.10px;width:12.90px;top:517.10px;line-height:10px;font-size:6.3px;color:#a9c2ee;">选择</span>
<svg style="left:0.00px;top:0.00px;pointer-events:none;" width="1080" height="721" viewBox="0 0 1080 721"><path d="M222.50 554 L445.50 554 L423.00 576.1 L245.00 576.1 Z" fill="#91c7ae"/><path d="M245.00 577.4 L423.00 577.4 L397.10 599.4 L270.90 599.4 Z" fill="#d48265"/><path d="M270.90 600.7 L397.10 600.7 L387.55 622.8 L280.45 622.8 Z" fill="#c23531"/><path d="M280.45 624 L387.55 624 L355.65 646.1 L312.35 646.1 Z" fill="#2f4554"/><path d="M312.35 647.4 L355.65 647.4 L334.00 669 L334.00 669 Z" fill="#61a0a8"/><path d="M435.6 565 H446" stroke="#91c7ae" stroke-width="0.7"/><path d="M412 587.8 H421" stroke="#d48265" stroke-width="0.7"/><path d="M392.8 611 H403" stroke="#c23531" stroke-width="0.7"/><path d="M373 634.4 H382.4" stroke="#2f4554" stroke-width="0.7"/><path d="M350 658.3 H355.5" stroke="#61a0a8" stroke-width="0.7"/></svg>
<span class="t" style="left:234.00px;width:200px;text-align:center;top:560.70px;line-height:10px;font-size:6.0px;color:#fff;">100 | 220,000</span>
<span class="t" style="left:234.00px;width:200px;text-align:center;top:583.50px;line-height:10px;font-size:6.0px;color:#fff;">80 | 220,000</span>
<span class="t" style="left:234.00px;width:200px;text-align:center;top:606.70px;line-height:10px;font-size:6.0px;color:#fff;">56 | 7,920,000</span>
<span class="t" style="left:234.00px;width:200px;text-align:center;top:630.10px;line-height:10px;font-size:6.0px;color:#fff;">48 | 6,920,000</span>
<span class="t" style="left:234.00px;width:200px;text-align:center;top:654.00px;line-height:10px;font-size:6.0px;color:#61a0a8;">20 | 920,000</span>
<div style="left:400px;top:550px;width:75.7px;height:125px;overflow:hidden;background:none">
<span class="t j" style="left:48.50px;width:26.30px;top:10.70px;line-height:10px;font-size:6.5px;color:#91c7ae;">锁定目标</span>
<span class="t j" style="left:24.70px;width:58.80px;top:33.50px;line-height:10px;font-size:6.5px;color:#d48265;">得到近期有效的机会</span>
<span class="t j" style="left:5.70px;width:71.80px;top:56.70px;line-height:10px;font-size:6.5px;color:#c23531;">与关键客户建立信赖关系</span>
</div>
<span class="t j" style="left:386.30px;width:58.80px;top:630.10px;line-height:10px;font-size:6.5px;color:#2f4554;">得到明确的客户需求</span>
<span class="t j" style="left:358.60px;width:58.80px;top:654.00px;line-height:10px;font-size:6.5px;color:#61a0a8;">达成协议、签订合同</span>
<div style="left:553.00px;top:105.70px;width:245.75px;height:150.10px;background:#fff;border-radius:1.5px;box-shadow:0 0 1.5px rgba(0,0,0,0.05);"></div>
<span class="t j" style="left:566.70px;width:45.90px;top:111.70px;line-height:12px;font-size:7.6px;color:#222;font-weight:bold;-webkit-text-stroke:0.3px;">跟单阶段变化</span>
<svg style="left:773.70px;top:116.00px;" width="11" height="2.4" viewBox="0 0 11 2.4"><circle cx="1.2" cy="1.2" r="1.1" fill="#222"/><circle cx="5.4" cy="1.2" r="1.1" fill="#222"/><circle cx="9.6" cy="1.2" r="1.1" fill="#222"/></svg>
<div style="left:607.60px;top:127.00px;width:95.10px;height:17.80px;border-radius:8.90px;background:#fff;border:0.8px solid #eceef3;box-sizing:border-box;box-shadow:0 0.5px 2.5px rgba(0,0,0,0.10)"></div>
<div style="left:610.80px;top:130.30px;width:66.00px;height:11.20px;background:#d9e8ff;border-radius:5.6px;"></div>
<span class="t j" style="left:616.60px;width:46.28px;top:131.60px;line-height:10px;font-size:6.5px;color:#2f6bd8;font-weight:bold;-webkit-text-stroke:0.3px;">CRM产品报备A</span>
<svg style="left:667.40px;top:133.70px;" width="4.4" height="4.4" viewBox="0 0 4.4 4.4"><path d="M0.4 0.4 L4 4 M4 0.4 L0.4 4" stroke="#2f6bd8" stroke-width="1"/></svg>
<span class="t j" style="left:682.80px;width:12.90px;top:131.60px;line-height:10px;font-size:6.3px;color:#a9c2ee;">选择</span>
<div style="left:707.50px;top:127.00px;width:75.80px;height:17.80px;border-radius:8.90px;background:#fff;border:0.8px solid #eceef3;box-sizing:border-box;box-shadow:0 0.5px 2.5px rgba(0,0,0,0.10)"></div>
<div style="left:710.70px;top:130.30px;width:47.00px;height:11.20px;background:#d9e8ff;border-radius:5.6px;"></div>
<span class="t j" style="left:716.50px;width:26.30px;top:131.60px;line-height:10px;font-size:6.5px;color:#2f6bd8;font-weight:bold;-webkit-text-stroke:0.3px;">全部部门</span>
<svg style="left:747.80px;top:133.70px;" width="4.4" height="4.4" viewBox="0 0 4.4 4.4"><path d="M0.4 0.4 L4 4 M4 0.4 L0.4 4" stroke="#2f6bd8" stroke-width="1"/></svg>
<span class="t j" style="left:763.70px;width:12.90px;top:131.60px;line-height:10px;font-size:6.3px;color:#a9c2ee;">选择</span>
<span class="t" style="left:596.80px;transform:scaleX(0.8);transform-origin:0 50%;top:150.90px;line-height:43px;font-size:31.4px;color:#3862a9;-webkit-text-stroke:0.25px #fff;">16</span>
<span class="t" style="left:627.60px;top:176.70px;line-height:10px;font-size:5.8px;color:#3862a9;font-weight:bold;">%</span>
<div style="left:674.30px;top:163.60px;width:0.60px;height:23.00px;background:#ececec;"></div>
<span class="t" style="left:710.30px;transform:scaleX(0.88);transform-origin:0 50%;top:150.90px;line-height:43px;font-size:31.4px;color:#cfcfcf;-webkit-text-stroke:0.25px #fff;">73</span>
<span class="t" style="left:746.00px;top:176.70px;line-height:10px;font-size:5.8px;color:#d5d5d5;font-weight:bold;">%</span>
<span class="t j" style="left:578.70px;width:74.26px;top:189.70px;line-height:12px;font-size:7.4px;color:#8a8a8a;">本月159单 跟单成功率</span>
<span class="t j" style="left:697.90px;width:63.70px;top:189.70px;line-height:12px;font-size:7.4px;color:#8a8a8a;">本月1984单 失败率</span>
<div style="left:566.20px;top:214.90px;width:106.80px;height:31.80px;background:#f7f8fa;"></div>
<div style="left:678.00px;top:214.90px;width:107.00px;height:31.80px;background:#f7f8fa;"></div>
<span class="t j" style="left:572.20px;width:27.10px;top:220.40px;line-height:11px;font-size:6.7px;color:#888;">向上推进</span>
<span class="t" style="left:573.20px;top:231.70px;line-height:11px;font-size:6.6px;color:#4a72c0;font-weight:bold;">63.11%</span>
<svg style="left:657.50px;top:222.60px;" width="8.5" height="5.2" viewBox="0 0 10 6"><path d="M0.6 5 L3 2.6 L5 4.2 L8.6 1 M6.4 0.8 L9 0.8 L9 3.2" fill="none" stroke="#999" stroke-width="1.25"/></svg>
<span class="t j" style="left:686.60px;width:27.10px;top:220.40px;line-height:11px;font-size:6.7px;color:#888;">向下跌落</span>
<span class="t" style="left:686.60px;top:231.70px;line-height:11px;font-size:6.6px;color:#333;font-weight:bold;">8.38%</span>
<svg style="left:766.50px;top:222.60px;" width="8.5" height="5.2" viewBox="0 0 10 6"><path d="M0.6 1 L3 3.4 L5 1.8 L8.6 5 M6.4 5.2 L9 5.2 L9 2.8" fill="none" stroke="#999" stroke-width="1"/></svg>
<div style="left:553.00px;top:264.60px;width:244.30px;height:83.10px;background:#fff;border-radius:1.5px;box-shadow:0 0 1.5px rgba(0,0,0,0.05);"></div>
<span class="t j" style="left:566.70px;width:30.70px;top:270.50px;line-height:12px;font-size:7.6px;color:#222;font-weight:bold;-webkit-text-stroke:0.3px;">营收款项</span>
<svg style="left:773.70px;top:273.10px;" width="11" height="2.4" viewBox="0 0 11 2.4"><circle cx="1.2" cy="1.2" r="1.1" fill="#222"/><circle cx="5.4" cy="1.2" r="1.1" fill="#222"/><circle cx="9.6" cy="1.2" r="1.1" fill="#222"/></svg>
<span class="t" style="left:643.60px;transform:scaleX(0.82);transform-origin:0 50%;top:278.10px;line-height:42px;font-size:31px;color:#dc3b3b;-webkit-text-stroke:0.25px #fff;"><span style="letter-spacing:-3.2px">11</span>.67</span>
<span class="t j" style="left:700.30px;width:6.30px;top:303.50px;line-height:10px;font-size:6px;color:#dc3b3b;">万</span>
<div style="left:591.50px;top:331.00px;width:10.50px;height:2.20px;background:#d8322f;border-radius:1.1px;"></div>
<span class="t j" style="left:608.00px;width:31.10px;top:326.70px;line-height:12px;font-size:7.7px;color:#333;font-weight:bold;-webkit-text-stroke:0.3px;">预计收款</span>
<svg style="left:645.15px;top:330.05px;" width="4.30" height="4.30" viewBox="0 0 4.30 4.30"><circle cx="2.15" cy="2.15" r="1.15" fill="#8a8a8a"/></svg>
<span class="t j" style="left:652.80px;width:30.30px;top:326.70px;line-height:12px;font-size:7.5px;color:#b0b0b0;">预计成交</span>
<svg style="left:687.25px;top:330.05px;" width="4.30" height="4.30" viewBox="0 0 4.30 4.30"><circle cx="2.15" cy="2.15" r="1.15" fill="#8a8a8a"/></svg>
<span class="t j" style="left:694.70px;width:22.80px;top:326.70px;line-height:12px;font-size:7.5px;color:#b0b0b0;">已收款</span>
<svg style="left:720.85px;top:330.05px;" width="4.30" height="4.30" viewBox="0 0 4.30 4.30"><circle cx="2.15" cy="2.15" r="1.15" fill="#8a8a8a"/></svg>
<span class="t j" style="left:729.00px;width:30.30px;top:326.70px;line-height:12px;font-size:7.5px;color:#b0b0b0;">逾期收款</span>
<div style="left:553.00px;top:356.40px;width:245.75px;height:196.30px;background:#fff;border-radius:1.5px;box-shadow:0 0 1.5px rgba(0,0,0,0.05);"></div>
<span class="t j" style="left:566.70px;width:38.30px;top:363.40px;line-height:12px;font-size:7.6px;color:#222;font-weight:bold;-webkit-text-stroke:0.3px;">任务燃尽图</span>
<svg style="left:773.70px;top:367.00px;" width="11" height="2.4" viewBox="0 0 11 2.4"><circle cx="1.2" cy="1.2" r="1.1" fill="#999"/><circle cx="5.4" cy="1.2" r="1.1" fill="#999"/><circle cx="9.6" cy="1.2" r="1.1" fill="#999"/></svg>
<svg style="left:566.10px;top:390.30px;" width="4.60" height="4.60" viewBox="0 0 4.60 4.60"><circle cx="2.30" cy="2.30" r="1.3" fill="#4a6bd8"/></svg>
<span class="t j" style="left:573.90px;width:19.80px;top:388.20px;line-height:10px;font-size:6.5px;color:#888;">销售部</span>
<svg style="left:599.30px;top:390.30px;" width="4.60" height="4.60" viewBox="0 0 4.60 4.60"><circle cx="2.30" cy="2.30" r="1.3" fill="#91cc75"/></svg>
<span class="t j" style="left:606.90px;width:19.80px;top:388.20px;line-height:10px;font-size:6.5px;color:#888;">服务部</span>
<div style="left:707.50px;top:383.60px;width:75.80px;height:16.90px;border-radius:8.45px;background:#fff;border:0.8px solid #eceef3;box-sizing:border-box;box-shadow:0 0.5px 2.5px rgba(0,0,0,0.10)"></div>
<div style="left:710.70px;top:386.45px;width:47.00px;height:11.20px;background:#d9e8ff;border-radius:5.6px;"></div>
<span class="t j" style="left:716.50px;width:26.30px;top:387.75px;line-height:10px;font-size:6.5px;color:#2f6bd8;font-weight:bold;-webkit-text-stroke:0.3px;">全部部门</span>
<svg style="left:747.80px;top:389.85px;" width="4.4" height="4.4" viewBox="0 0 4.4 4.4"><path d="M0.4 0.4 L4 4 M4 0.4 L0.4 4" stroke="#2f6bd8" stroke-width="1"/></svg>
<span class="t j" style="left:763.70px;width:12.90px;top:387.75px;line-height:10px;font-size:6.3px;color:#a9c2ee;">选择</span>
<svg style="left:0.00px;top:0.00px;pointer-events:none;" width="1080" height="721" viewBox="0 0 1080 721"><path d="M592 410.6 H775.5" stroke="#e6e9f5" stroke-width="0.7"/><path d="M592 434 H775.5" stroke="#e6e9f5" stroke-width="0.7"/><path d="M592 457.2 H775.5" stroke="#e6e9f5" stroke-width="0.7"/><path d="M592 480.5 H775.5" stroke="#e6e9f5" stroke-width="0.7"/><path d="M592 503.8 H775.5" stroke="#e6e9f5" stroke-width="0.7"/><path d="M591.5 527.4 H775.5" stroke="#6e7079" stroke-width="0.9"/><path d="M591.8 527.4 V530" stroke="#6e7079" stroke-width="0.7"/><path d="M613.5 527.4 V530" stroke="#6e7079" stroke-width="0.7"/><path d="M636 527.4 V530" stroke="#6e7079" stroke-width="0.7"/><path d="M658.5 527.4 V530" stroke="#6e7079" stroke-width="0.7"/><path d="M680 527.4 V530" stroke="#6e7079" stroke-width="0.7"/><path d="M702 527.4 V530" stroke="#6e7079" stroke-width="0.7"/><path d="M724.5 527.4 V530" stroke="#6e7079" stroke-width="0.7"/><path d="M746.5 527.4 V530" stroke="#6e7079" stroke-width="0.7"/><path d="M769 527.4 V530" stroke="#6e7079" stroke-width="0.7"/><path d="M775.2 527.4 V530" stroke="#6e7079" stroke-width="0.7"/><path d="M701.5 410.6 V527" stroke="#999" stroke-width="0.5" stroke-dasharray="1.5 1.2"/><polyline points="593.9,429.9 606.4,432.8 617.2,436.4 629.3,441.9 641.3,448 650.9,454.7 658.1,459.5 663,460 672.6,465.5 682.2,468.4 691.8,472 697.9,475.2 701.5,479.3 708.7,480.9 713.5,480.5 723.1,485.3 731.6,492 740,493.7 749.6,498.5 753.2,499 756.8,496.1 764.1,498.5 772.5,498.5" fill="none" stroke="#91cc75" stroke-width="1.5" stroke-linejoin="round"/><polyline points="593.9,428.7 602.8,433.5 610,438.8 617.2,442 624.4,446.8 632.9,450.9 641.3,454 648.5,459.5 655.7,464.8 663,466.5 670.2,472 676.2,476.1 683.4,476.1 689.4,479.7 696.7,484.1 701.5,487.7 703.9,484.8 708.7,487.7 712.3,487.2 718.3,490.1 724.3,492 730.4,495.6 735.2,498.5 741.2,498 746,500.4 750.8,505.7 754,506.5 756.8,502.6 760.5,506.9 764.1,511 768.9,511.8 772.5,513.7" fill="none" stroke="#4a6bd8" stroke-width="1.5" stroke-linejoin="round"/><circle cx="701.5" cy="479.3" r="1.4" fill="#fff" stroke="#91cc75" stroke-width="0.6"/><circle cx="701.5" cy="487.7" r="1.4" fill="#fff" stroke="#4a6bd8" stroke-width="0.6"/></svg>
<span class="t" style="left:387.30px;width:200px;text-align:right;top:406.90px;line-height:10px;font-size:6.5px;color:#7a7c85;">50</span>
<span class="t" style="left:387.30px;width:200px;text-align:right;top:430.30px;line-height:10px;font-size:6.5px;color:#7a7c85;">40</span>
<span class="t" style="left:387.30px;width:200px;text-align:right;top:453.50px;line-height:10px;font-size:6.5px;color:#7a7c85;">30</span>
<span class="t" style="left:387.30px;width:200px;text-align:right;top:476.80px;line-height:10px;font-size:6.5px;color:#7a7c85;">20</span>
<span class="t" style="left:387.30px;width:200px;text-align:right;top:500.10px;line-height:10px;font-size:6.5px;color:#7a7c85;">10</span>
<span class="t" style="left:387.30px;width:200px;text-align:right;top:523.70px;line-height:10px;font-size:6.5px;color:#7a7c85;">0</span>
<span class="t" style="left:480.60px;width:200px;text-align:center;top:532.30px;line-height:10px;font-size:6.5px;color:#7a7c85;">12-01</span>
<span class="t" style="left:547.00px;width:200px;text-align:center;top:532.30px;line-height:10px;font-size:6.5px;color:#7a7c85;">12-10</span>
<span class="t" style="left:606.00px;width:200px;text-align:center;top:532.30px;line-height:10px;font-size:6.5px;color:#7a7c85;">12-20</span>
<span class="t" style="left:674.40px;width:200px;text-align:center;top:532.30px;line-height:10px;font-size:6.5px;color:#7a7c85;">12-30</span>
<div style="left:713.00px;top:426.30px;width:50.60px;height:45.20px;background:#fff;border-radius:2px;box-shadow:0 0.5px 4px rgba(0,0,0,0.16);"></div>
<span class="t" style="left:720.00px;top:432.30px;line-height:10px;font-size:6.4px;color:#777;">12-19</span>
<svg style="left:719.10px;top:443.90px;" width="7.20" height="7.20" viewBox="0 0 7.20 7.20"><circle cx="3.60" cy="3.60" r="2.6" fill="#4a6bd8"/></svg>
<svg style="left:719.10px;top:456.90px;" width="7.20" height="7.20" viewBox="0 0 7.20 7.20"><circle cx="3.60" cy="3.60" r="2.6" fill="#91cc75"/></svg>
<span class="t" style="left:733.20px;top:441.80px;line-height:13px;font-size:8.3px;color:#3a3a3a;-webkit-text-stroke:0.2px;">32,706</span>
<span class="t" style="left:733.20px;top:454.80px;line-height:13px;font-size:8.3px;color:#3a3a3a;-webkit-text-stroke:0.2px;">28,942</span>
<div style="left:553.00px;top:559.70px;width:243.00px;height:136.40px;background:#fff;border-radius:1.5px;box-shadow:0 0 1.5px rgba(0,0,0,0.05);"></div>
<span class="t j" style="left:566.70px;width:45.90px;top:567.10px;line-height:12px;font-size:7.6px;color:#222;font-weight:bold;-webkit-text-stroke:0.3px;">成单周期分布</span>
<div style="left:708.70px;top:564.40px;width:75.80px;height:16.90px;border-radius:8.45px;background:#fff;border:0.8px solid #eceef3;box-sizing:border-box;box-shadow:0 0.5px 2.5px rgba(0,0,0,0.10)"></div>
<div style="left:711.90px;top:567.25px;width:47.00px;height:11.20px;background:#d9e8ff;border-radius:5.6px;"></div>
<span class="t j" style="left:717.70px;width:26.30px;top:568.55px;line-height:10px;font-size:6.5px;color:#2f6bd8;font-weight:bold;-webkit-text-stroke:0.3px;">工程跟单</span>
<svg style="left:749.00px;top:570.65px;" width="4.4" height="4.4" viewBox="0 0 4.4 4.4"><path d="M0.4 0.4 L4 4 M4 0.4 L0.4 4" stroke="#2f6bd8" stroke-width="1"/></svg>
<span class="t j" style="left:764.90px;width:12.90px;top:568.55px;line-height:10px;font-size:6.3px;color:#a9c2ee;">选择</span>
<svg style="left:0.00px;top:0.00px;pointer-events:none;" width="1080" height="721" viewBox="0 0 1080 721"><path d="M582 599.4 H770" stroke="#eef0f6" stroke-width="0.7"/><path d="M582 619.8 H770" stroke="#eef0f6" stroke-width="0.7"/><path d="M582 639.8 H770" stroke="#eef0f6" stroke-width="0.7"/><path d="M582 659.6 H770" stroke="#eef0f6" stroke-width="0.7"/><rect x="588.3" y="660" width="25.30" height="20.00" fill="#5470c6"/><rect x="625.6" y="637.1" width="25.30" height="42.90" fill="#5470c6"/><rect x="663.4" y="604.9" width="25.30" height="75.10" fill="#5470c6"/><rect x="701" y="656.6" width="25.30" height="23.40" fill="#5470c6"/><rect x="738.3" y="651.6" width="25.30" height="28.40" fill="#5470c6"/><path d="M581.8 680 H770" stroke="#6e7079" stroke-width="0.8"/><path d="M581.9 680 V682.6" stroke="#6e7079" stroke-width="0.7"/><path d="M619.5 680 V682.6" stroke="#6e7079" stroke-width="0.7"/><path d="M657.1 680 V682.6" stroke="#6e7079" stroke-width="0.7"/><path d="M694.8 680 V682.6" stroke="#6e7079" stroke-width="0.7"/><path d="M732.4 680 V682.6" stroke="#6e7079" stroke-width="0.7"/><path d="M769.9 680 V682.6" stroke="#6e7079" stroke-width="0.7"/><path d="M583 641.8 H764" stroke="#5470c6" stroke-width="0.9" stroke-dasharray="1.2 1.2"/><path d="M626.0 641.8 H650.9" stroke="#9fb0e4" stroke-width="0.9" stroke-dasharray="1.2 1.2"/><path d="M663.8 641.8 H688.7" stroke="#9fb0e4" stroke-width="0.9" stroke-dasharray="1.2 1.2"/><circle cx="581.9" cy="641.8" r="2" fill="#5470c6"/><path d="M762 638.6 L770 641.8 L762 645 L764.2 641.8 Z" fill="#5470c6"/><path d="M675.8 604.3 C674.3 599.3 667.5 594.7 667.5 589.2 A8.3 8.3 0 1 1 684.0999999999999 589.2 C684.0999999999999 594.7 677.3 599.3 675.8 604.3 Z" fill="#5470c6"/><path d="M600.9 659.6 C599.4 654.6 592.6 650.1 592.6 644.6 A8.3 8.3 0 1 1 609.1999999999999 644.6 C609.1999999999999 650.1 602.4 654.6 600.9 659.6 Z" fill="#5470c6"/></svg>
<span class="t" style="left:377.70px;width:200px;text-align:right;top:594.80px;line-height:10px;font-size:6.4px;color:#9a9ca3;">800</span>
<span class="t" style="left:377.70px;width:200px;text-align:right;top:615.20px;line-height:10px;font-size:6.4px;color:#9a9ca3;">600</span>
<span class="t" style="left:377.70px;width:200px;text-align:right;top:635.20px;line-height:10px;font-size:6.4px;color:#9a9ca3;">400</span>
<span class="t" style="left:377.70px;width:200px;text-align:right;top:655.00px;line-height:10px;font-size:6.4px;color:#9a9ca3;">200</span>
<span class="t" style="left:377.70px;width:200px;text-align:right;top:675.40px;line-height:10px;font-size:6.4px;color:#9a9ca3;">0</span>
<span class="t j" style="left:595.81px;width:10.38px;top:682.60px;line-height:10px;font-size:6.4px;color:#9a9ca3;">7天</span>
<span class="t j" style="left:627.40px;width:21.60px;top:682.60px;line-height:10px;font-size:6.4px;color:#9a9ca3;">7~14天</span>
<span class="t j" style="left:663.36px;width:25.28px;top:682.60px;line-height:10px;font-size:6.4px;color:#9a9ca3;">14~28天</span>
<span class="t j" style="left:704.74px;width:17.92px;top:682.60px;line-height:10px;font-size:6.4px;color:#9a9ca3;">1~3月</span>
<span class="t j" style="left:739.41px;width:23.18px;top:682.60px;line-height:10px;font-size:6.4px;color:#9a9ca3;">3月以上</span>
<span class="t" style="left:575.80px;width:200px;text-align:center;top:585.10px;line-height:10px;font-size:6.3px;color:#fff;">750</span>
<span class="t" style="left:500.90px;width:200px;text-align:center;top:640.50px;line-height:10px;font-size:6.3px;color:#fff;">200</span>
<span class="t" style="left:773.00px;top:637.20px;line-height:10px;font-size:6.4px;color:#666;">379.4</span>
<div style="left:806.80px;top:105.70px;width:117.70px;height:56.20px;background:#fff;border-radius:1.5px;box-shadow:0 0 1.5px rgba(0,0,0,0.05);"></div>
<div style="left:933.00px;top:105.70px;width:119.10px;height:56.20px;background:#fff;border-radius:1.5px;box-shadow:0 0 1.5px rgba(0,0,0,0.05);"></div>
<span class="t" style="left:854.80px;transform:scaleX(0.9);transform-origin:0 50%;top:104.20px;line-height:43px;font-size:31.4px;color:#e0393a;-webkit-text-stroke:0.25px #fff;">6</span>
<span class="t j" style="left:848.05px;width:29.90px;top:142.70px;line-height:12px;font-size:7.4px;color:#8c8c8c;">待审跟单</span>
<span class="t" style="left:985.60px;transform:scaleX(0.93);transform-origin:0 50%;top:103.80px;line-height:43px;font-size:31.4px;color:#8e8e8e;-webkit-text-stroke:0.25px #fff;">0</span>
<span class="t j" style="left:979.55px;width:29.90px;top:141.90px;line-height:12px;font-size:7.4px;color:#9a9a9a;">待签跟单</span>
<div style="left:807.50px;top:170.00px;width:245.40px;height:69.50px;background:#fff;border-radius:1.5px;box-shadow:0 0 1.5px rgba(0,0,0,0.05);"></div>
<span class="t j" style="left:820.00px;width:30.70px;top:176.50px;line-height:12px;font-size:7.6px;color:#222;font-weight:bold;-webkit-text-stroke:0.3px;">预警预测</span>
<svg style="left:1025.00px;top:179.00px;" width="11" height="2.4" viewBox="0 0 11 2.4"><circle cx="1.2" cy="1.2" r="1.1" fill="#999"/><circle cx="5.4" cy="1.2" r="1.1" fill="#999"/><circle cx="9.6" cy="1.2" r="1.1" fill="#999"/></svg>
<div style="left:819.30px;top:194.50px;width:66.70px;height:33.00px;background:#f7f8fa;border-radius:2px;"></div>
<div style="left:896.30px;top:194.50px;width:66.70px;height:33.00px;background:#f7f8fa;border-radius:2px;"></div>
<div style="left:973.30px;top:194.50px;width:66.70px;height:33.00px;background:#f7f8fa;border-radius:2px;"></div>
<span class="t" style="left:752.70px;width:200px;text-align:center;transform:scaleX(0.84);transform-origin:50% 50%;top:197.10px;line-height:19px;font-size:13px;color:#d4764f;font-weight:bold;">11</span>
<span class="t" style="left:830.30px;width:200px;text-align:center;transform:scaleX(0.84);transform-origin:50% 50%;top:197.10px;line-height:19px;font-size:13px;color:#d8322f;font-weight:bold;">159</span>
<span class="t" style="left:906.60px;width:200px;text-align:center;transform:scaleX(0.84);transform-origin:50% 50%;top:197.10px;line-height:19px;font-size:13px;color:#2f4554;font-weight:bold;">6</span>
<span class="t j" style="left:836.60px;width:32.80px;top:213.70px;line-height:10px;font-size:6.5px;color:#4a72c0;">超期未跟进</span>
<span class="t j" style="left:913.60px;width:32.80px;top:213.70px;line-height:10px;font-size:6.5px;color:#4a72c0;">超期未成交</span>
<span class="t j" style="left:993.85px;width:26.30px;top:213.70px;line-height:10px;font-size:6.5px;color:#4a72c0;">待签合同</span>
<div style="left:807.50px;top:250.00px;width:245.00px;height:167.30px;background:#fff;border-radius:1.5px;box-shadow:0 0 1.5px rgba(0,0,0,0.05);"></div>
<span class="t j" style="left:819.00px;width:30.70px;top:259.20px;line-height:12px;font-size:7.6px;color:#222;font-weight:bold;-webkit-text-stroke:0.3px;">跟单提醒</span>
<svg style="left:1024.40px;top:264.10px;" width="11" height="2.4" viewBox="0 0 11 2.4"><circle cx="1.2" cy="1.2" r="1.1" fill="#222"/><circle cx="5.4" cy="1.2" r="1.1" fill="#222"/><circle cx="9.6" cy="1.2" r="1.1" fill="#222"/></svg>
<div style="left:819.00px;top:274.80px;width:218.00px;height:0.70px;background:#efefef;"></div>
<svg style="left:818.85px;top:286.85px;" width="4.90" height="4.90" viewBox="0 0 4.90 4.90"><circle cx="2.45" cy="2.45" r="1.45" fill="#ff6a1f"/></svg>
<span class="t j" style="left:826.30px;width:48.33px;top:284.50px;line-height:11px;font-size:6.55px;color:#555;-webkit-text-stroke:0.12px;">中石化CRM实施</span>
<span class="t j" style="left:1002.53px;width:31.97px;top:285.00px;line-height:10px;font-size:6.5px;color:#b3b3b3;">今日 14:04</span>
<svg style="left:818.85px;top:308.65px;" width="4.90" height="4.90" viewBox="0 0 4.90 4.90"><circle cx="2.45" cy="2.45" r="1.45" fill="#ff6a1f"/></svg>
<span class="t j" style="left:826.30px;width:26.50px;top:306.30px;line-height:11px;font-size:6.55px;color:#555;-webkit-text-stroke:0.12px;">部门搬迁</span>
<span class="t" style="left:834.50px;width:200px;text-align:right;top:306.80px;line-height:10px;font-size:6.5px;color:#b3b3b3;">12-29 14:14</span>
<svg style="left:818.85px;top:330.55px;" width="4.90" height="4.90" viewBox="0 0 4.90 4.90"><circle cx="2.45" cy="2.45" r="1.45" fill="#ff6a1f"/></svg>
<span class="t j" style="left:826.30px;width:39.60px;top:328.20px;line-height:11px;font-size:6.55px;color:#555;-webkit-text-stroke:0.12px;">述职报告会议</span>
<span class="t" style="left:834.50px;width:200px;text-align:right;top:328.70px;line-height:10px;font-size:6.5px;color:#b3b3b3;">12-15 09:33</span>
<svg style="left:818.85px;top:352.25px;" width="4.90" height="4.90" viewBox="0 0 4.90 4.90"><circle cx="2.45" cy="2.45" r="1.45" fill="#ff6a1f"/></svg>
<span class="t j" style="left:826.30px;width:112.87px;top:349.90px;line-height:11px;font-size:6.55px;color:#555;-webkit-text-stroke:0.12px;">部门：【售后服务部】2020的按月预...</span>
<span class="t" style="left:834.50px;width:200px;text-align:right;top:350.40px;line-height:10px;font-size:6.5px;color:#b3b3b3;">12-02 18:30</span>
<svg style="left:818.85px;top:374.05px;" width="4.90" height="4.90" viewBox="0 0 4.90 4.90"><circle cx="2.45" cy="2.45" r="1.45" fill="#ff6a1f"/></svg>
<span class="t j" style="left:826.30px;width:111.65px;top:371.70px;line-height:11px;font-size:6.55px;color:#555;-webkit-text-stroke:0.12px;">人民日报：人工智能，务实发展是正道</span>
<span class="t" style="left:834.50px;width:200px;text-align:right;top:372.20px;line-height:10px;font-size:6.5px;color:#b3b3b3;">11-30 19:12</span>
<svg style="left:818.85px;top:395.85px;" width="4.90" height="4.90" viewBox="0 0 4.90 4.90"><circle cx="2.45" cy="2.45" r="1.45" fill="#ff6a1f"/></svg>
<span class="t j" style="left:826.30px;width:67.75px;top:393.50px;line-height:11px;font-size:6.55px;color:#555;-webkit-text-stroke:0.12px;">朱广权押韵版总结2020</span>
<span class="t" style="left:834.50px;width:200px;text-align:right;top:394.00px;line-height:10px;font-size:6.5px;color:#b3b3b3;">10-24 12:40</span>
<div style="left:815.00px;top:300.20px;width:237.00px;height:0.60px;background:#f6f6f6;"></div>
<div style="left:815.00px;top:322.00px;width:237.00px;height:0.60px;background:#f6f6f6;"></div>
<div style="left:815.00px;top:343.80px;width:237.00px;height:0.60px;background:#f6f6f6;"></div>
<div style="left:815.00px;top:365.60px;width:237.00px;height:0.60px;background:#f6f6f6;"></div>
<div style="left:815.00px;top:387.40px;width:237.00px;height:0.60px;background:#f6f6f6;"></div>
<div style="left:807.70px;top:426.80px;width:245.30px;height:269.30px;background:#fff;border-radius:1.5px;box-shadow:0 0 1.5px rgba(0,0,0,0.05);"></div>
<span class="t j" style="left:820.00px;width:54.20px;top:434.20px;line-height:12px;font-size:7.7px;color:#222;font-weight:bold;-webkit-text-stroke:0.3px;">成交金额排行榜</span>
<span class="t" style="left:781.80px;width:200px;text-align:center;top:435.20px;line-height:10px;font-size:6px;color:#bbb;">/</span>
<span class="t j" style="left:887.00px;width:13.10px;top:435.20px;line-height:10px;font-size:6.4px;color:#b5b5b5;">回款</span>
<svg style="left:1031.30px;top:438.30px;" width="11" height="2.4" viewBox="0 0 11 2.4"><circle cx="1.2" cy="1.2" r="1.1" fill="#999"/><circle cx="5.4" cy="1.2" r="1.1" fill="#999"/><circle cx="9.6" cy="1.2" r="1.1" fill="#999"/></svg>
<div style="left:819.50px;top:453.00px;width:222.30px;height:2.70px;background:#ececec;"></div>
<div style="left:876.00px;top:456.00px;width:1.00px;height:218.00px;background:#f6f6f6;"></div>
<div style="left:958.50px;top:456.00px;width:1.00px;height:218.00px;background:#f6f6f6;"></div>
<span class="t" style="left:741.80px;width:200px;text-align:center;top:462.70px;line-height:9px;font-size:5.6px;color:#aaa;">1</span>
<span class="t j" style="left:909.85px;width:12.90px;top:462.70px;line-height:10px;font-size:6.3px;color:#777;">猪哥</span>
<span class="t" style="left:903.00px;width:200px;text-align:center;transform:scaleX(0.79);transform-origin:50% 50%;top:460.00px;line-height:17px;font-size:11.2px;color:#5a5a5a;">5812000.00</span>
<div style="left:819.50px;top:477.60px;width:222.50px;height:1.00px;background:#f4f4f4;"></div>
<span class="t" style="left:741.80px;width:200px;text-align:center;top:484.57px;line-height:9px;font-size:5.6px;color:#aaa;">2</span>
<span class="t j" style="left:906.70px;width:19.20px;top:484.57px;line-height:10px;font-size:6.3px;color:#777;">任正非</span>
<span class="t" style="left:903.00px;width:200px;text-align:center;transform:scaleX(0.79);transform-origin:50% 50%;top:481.87px;line-height:17px;font-size:11.2px;color:#5a5a5a;">21200.00</span>
<div style="left:819.50px;top:499.47px;width:222.50px;height:1.00px;background:#f4f4f4;"></div>
<span class="t" style="left:741.80px;width:200px;text-align:center;top:506.44px;line-height:9px;font-size:5.6px;color:#aaa;">3</span>
<span class="t j" style="left:902.44px;width:27.72px;top:506.44px;line-height:10px;font-size:6.3px;color:#777;">苏菲·玛索</span>
<span class="t" style="left:903.00px;width:200px;text-align:center;transform:scaleX(0.79);transform-origin:50% 50%;top:503.74px;line-height:17px;font-size:11.2px;color:#5a5a5a;">7600.00</span>
<div style="left:819.50px;top:521.34px;width:222.50px;height:1.00px;background:#f4f4f4;"></div>
<span class="t" style="left:741.80px;width:200px;text-align:center;top:528.31px;line-height:9px;font-size:5.6px;color:#aaa;">4</span>
<span class="t" style="left:816.30px;width:200px;text-align:center;top:528.31px;line-height:10px;font-size:6.3px;color:#777;">TONY</span>
<span class="t" style="left:903.00px;width:200px;text-align:center;transform:scaleX(0.79);transform-origin:50% 50%;top:525.61px;line-height:17px;font-size:11.2px;color:#5a5a5a;">5521.16</span>
<div style="left:819.50px;top:543.21px;width:222.50px;height:1.00px;background:#f4f4f4;"></div>
<span class="t" style="left:741.80px;width:200px;text-align:center;top:550.18px;line-height:9px;font-size:5.6px;color:#aaa;">5</span>
<span class="t j" style="left:906.70px;width:19.20px;top:550.18px;line-height:10px;font-size:6.3px;color:#777;">王大锤</span>
<span class="t" style="left:903.00px;width:200px;text-align:center;transform:scaleX(0.79);transform-origin:50% 50%;top:547.48px;line-height:17px;font-size:11.2px;color:#5a5a5a;">959.12</span>
<div style="left:819.50px;top:565.08px;width:222.50px;height:1.00px;background:#f4f4f4;"></div>
<span class="t" style="left:741.80px;width:200px;text-align:center;top:572.05px;line-height:9px;font-size:5.6px;color:#aaa;">6</span>
<span class="t j" style="left:909.85px;width:12.90px;top:572.05px;line-height:10px;font-size:6.3px;color:#777;">流水</span>
<span class="t" style="left:903.00px;width:200px;text-align:center;transform:scaleX(0.79);transform-origin:50% 50%;top:569.35px;line-height:17px;font-size:11.2px;color:#5a5a5a;">55.0</span>
<div style="left:819.50px;top:586.95px;width:222.50px;height:1.00px;background:#f4f4f4;"></div>
<span class="t" style="left:741.80px;width:200px;text-align:center;top:593.92px;line-height:9px;font-size:5.6px;color:#aaa;">7</span>
<span class="t j" style="left:909.85px;width:12.90px;top:593.92px;line-height:10px;font-size:6.3px;color:#777;">楠溪</span>
<span class="t" style="left:903.00px;width:200px;text-align:center;transform:scaleX(0.79);transform-origin:50% 50%;top:591.22px;line-height:17px;font-size:11.2px;color:#5a5a5a;">3.0</span>
<div style="left:819.50px;top:608.82px;width:222.50px;height:1.00px;background:#f4f4f4;"></div>
<span class="t" style="left:741.80px;width:200px;text-align:center;top:615.79px;line-height:9px;font-size:5.6px;color:#aaa;">8</span>
<span class="t j" style="left:909.85px;width:12.90px;top:615.79px;line-height:10px;font-size:6.3px;color:#777;">波顿</span>
<span class="t" style="left:903.00px;width:200px;text-align:center;transform:scaleX(0.79);transform-origin:50% 50%;top:613.09px;line-height:17px;font-size:11.2px;color:#5a5a5a;">0</span>
<div style="left:819.50px;top:630.69px;width:222.50px;height:1.00px;background:#f4f4f4;"></div>
<span class="t" style="left:741.80px;width:200px;text-align:center;top:637.66px;line-height:9px;font-size:5.6px;color:#aaa;">9</span>
<span class="t j" style="left:903.55px;width:25.50px;top:637.66px;line-height:10px;font-size:6.3px;color:#777;">布鲁克斯</span>
<span class="t" style="left:903.00px;width:200px;text-align:center;transform:scaleX(0.79);transform-origin:50% 50%;top:634.96px;line-height:17px;font-size:11.2px;color:#5a5a5a;">0</span>
<div style="left:819.50px;top:652.56px;width:222.50px;height:1.00px;background:#f4f4f4;"></div>
<span class="t" style="left:741.80px;width:200px;text-align:center;top:659.53px;line-height:9px;font-size:5.6px;color:#aaa;">10</span>
<span class="t j" style="left:909.85px;width:12.90px;top:659.53px;line-height:10px;font-size:6.3px;color:#777;">莫德</span>
<span class="t" style="left:903.00px;width:200px;text-align:center;transform:scaleX(0.79);transform-origin:50% 50%;top:656.83px;line-height:17px;font-size:11.2px;color:#5a5a5a;">0</span>
<div id="fe"></div>
</div></body></html>
